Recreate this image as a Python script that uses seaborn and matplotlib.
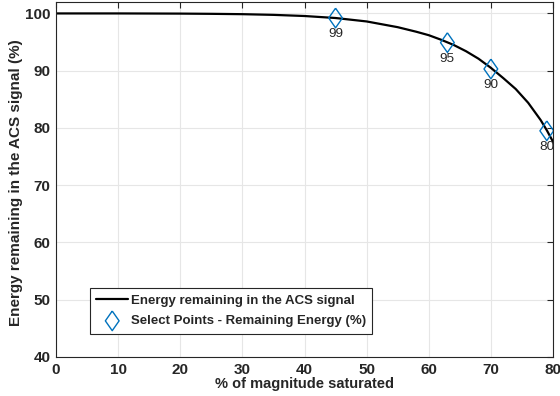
import matplotlib
matplotlib.use('Agg')
import matplotlib.pyplot as plt
import seaborn as sns
import pandas as pd

# Curve: energy remaining vs % of magnitude saturated
curve_x = [0, 10, 20, 25, 30, 35, 40, 45, 50, 55, 58, 60, 62, 64, 66, 68,
           70, 72, 74, 76, 78, 79, 80]
curve_y = [100, 100, 99.97, 99.93, 99.87, 99.75, 99.55, 99.2, 98.6, 97.6,
           96.8, 96.2, 95.4, 94.5, 93.4, 92.1, 90.5, 88.7, 86.8, 84.4,
           81.4, 79.6, 77.6]

# Selected points
pts_x = [45, 63, 70, 79]
pts_y = [99.2, 94.9, 90.3, 79.5]
pts_lbl = ['99', '95', '90', '80']

x_ticks = [0, 10, 20, 30, 40, 50, 60, 70, 80]
y_ticks = [40, 50, 60, 70, 80, 90, 100]

BLUE = '#0072BD'
DARK = '#262626'

# MATLAB-like diamond (a bit wider than mpl's thin diamond)
diamond = [(0, 1), (0.7, 0), (0, -1), (-0.7, 0), (0, 1)]

sns.set_theme(style='whitegrid')
plt.rcParams['font.family'] = ['Liberation Sans', 'DejaVu Sans']

fig = plt.figure(figsize=(5.6, 3.96), dpi=100)
ax = fig.add_axes([0.1, 0.0985, 0.8875, 0.8965])

curve = pd.DataFrame({'x': curve_x, 'y': curve_y})
pts = pd.DataFrame({'x': pts_x, 'y': pts_y})

sns.lineplot(data=curve, x='x', y='y', ax=ax, color='black', linewidth=1.6,
             label='Energy remaining in the ACS signal')
sns.scatterplot(data=pts, x='x', y='y', ax=ax, marker=diamond, s=200,
                label='Select Points - Remaining Energy (%)', zorder=3)
sc = ax.collections[-1]
sc.set_facecolor('none')
sc.set_edgecolor(BLUE)
sc.set_linewidth(1.0)

for xv, yv, t in zip(pts_x, pts_y, pts_lbl):
    ax.annotate(t, (xv, yv), xytext=(0, -11.5), textcoords='offset points',
                ha='center', va='center', fontsize=9.7, color=DARK)

ax.set_xlim(0, 80)
ax.set_ylim(40, 102)
ax.set_xticks(x_ticks)
ax.set_yticks(y_ticks)
ax.grid(True, color='#e6e6e6', linewidth=0.8)
for sp in ax.spines.values():
    sp.set_visible(True)
    sp.set_color(DARK)
    sp.set_linewidth(0.8)
ax.tick_params(direction='in', length=4, width=0.8, color=DARK,
               top=True, right=True, labelsize=11, labelcolor=DARK)
ax.tick_params(axis='x', pad=4)
ax.tick_params(axis='y', pad=4)
for lab in ax.get_xticklabels() + ax.get_yticklabels():
    lab.set_fontweight('bold')

ax.set_xlabel('% of magnitude saturated', fontsize=10.5, fontweight='bold',
              color=DARK, labelpad=0)
ax.set_ylabel('Energy remaining in the ACS signal (%)', fontsize=11,
              fontweight='bold', color=DARK)
ax.yaxis.set_label_coords(-0.066, 0.49)

leg = ax.legend(loc='lower left', bbox_to_anchor=(0.068, 0.065),
                borderaxespad=0, fancybox=False, framealpha=1,
                edgecolor=DARK, handlelength=2.4, handletextpad=0.2,
                labelspacing=0.65, borderpad=0.5, scatterpoints=1,
                prop={'weight': 'bold', 'size': 9.5})
leg.get_frame().set_linewidth(0.8)

fig.savefig('out.png', dpi=100)
